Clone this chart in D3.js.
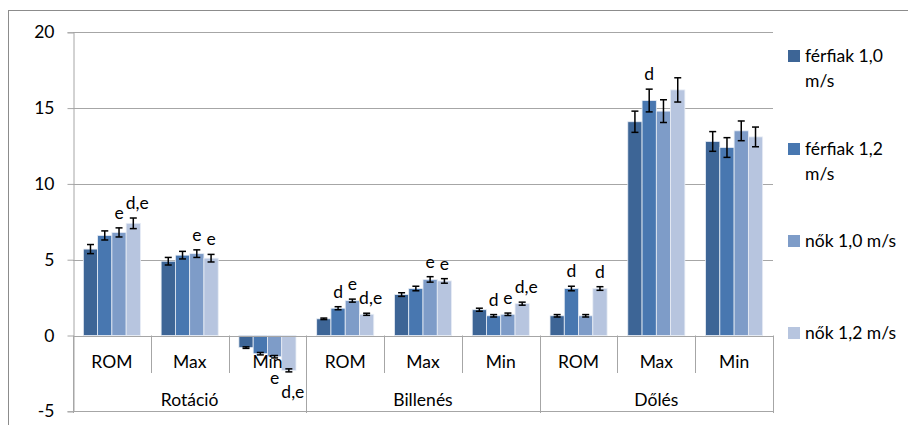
<!DOCTYPE html>
<html>
<head>
<meta charset="utf-8">
<script src="https://cdn.jsdelivr.net/npm/d3@7"></script>
<style>
  body { margin: 0; background: #fff; }
  text { font-family: Lato, "Open Sans", sans-serif; fill: #000; }
</style>
</head>
<body>
<script>
'use strict';

const groups = ['Rotáció', 'Billenés', 'Dőlés'];
const measures = ['ROM', 'Max', 'Min'];
const seriesNames = ['férfiak 1,0 m/s', 'férfiak 1,2 m/s', 'nők 1,0 m/s', 'nők 1,2 m/s'];
const colors = ['#3d6596', '#4877b0', '#7e9cc8', '#b7c5df'];
const yTicks = [-5, 0, 5, 10, 15, 20];

// values per series, in order Rotáció ROM/Max/Min, Billenés ROM/Max/Min, Dőlés ROM/Max/Min
const ferfi10 = [5.7, 4.9, -0.8, 1.1, 2.7, 1.7, 1.3, 14.1, 12.8];
const ferfi12 = [6.6, 5.3, -1.2, 1.8, 3.1, 1.3, 3.1, 15.5, 12.4];
const nok10   = [6.8, 5.4, -1.4, 2.3, 3.7, 1.4, 1.3, 14.8, 13.5];
const nok12   = [7.4, 5.1, -2.3, 1.4, 3.6, 2.1, 3.1, 16.2, 13.1];

const ferfi10Err = [0.3, 0.25, 0.05, 0.05, 0.12, 0.1, 0.08, 0.7, 0.65];
const ferfi12Err = [0.3, 0.25, 0.08, 0.1, 0.15, 0.08, 0.15, 0.75, 0.65];
const nok10Err   = [0.3, 0.25, 0.08, 0.1, 0.18, 0.08, 0.08, 0.75, 0.65];
const nok12Err   = [0.35, 0.25, 0.1, 0.07, 0.15, 0.1, 0.12, 0.8, 0.65];

const ferfi10Lab = ['', '', '', '', '', '', '', '', ''];
const ferfi12Lab = ['', '', '', 'd', '', 'd', 'd', 'd', ''];
const nok10Lab   = ['e', 'e', 'e', 'e', 'e', 'e', '', '', ''];
const nok12Lab   = ['d,e', 'e', 'd,e', 'd,e', 'e', 'd,e', 'd', '', ''];

const seriesVals = [ferfi10, ferfi12, nok10, nok12];
const seriesErr = [ferfi10Err, ferfi12Err, nok10Err, nok12Err];
const seriesLab = [ferfi10Lab, ferfi12Lab, nok10Lab, nok12Lab];

const W = 908, H = 425;
const plot = { left: 73, right: 773, top: 32.3, bottom: 411.3 };
const gridColor = '#a6a6a6';
const fs = '17.5px';

const svg = d3.select('body').append('svg')
  .attr('width', W)
  .attr('height', H);

// outer chart border
svg.append('rect')
  .attr('x', 8.5).attr('y', 10.5)
  .attr('width', W + 10).attr('height', H + 10)
  .attr('fill', 'none')
  .attr('stroke', '#8c8c8c');

const keys = [];
groups.forEach(g => measures.forEach(m => keys.push(g + '|' + m)));

const x = d3.scaleBand()
  .domain(keys)
  .range([plot.left, plot.right]);

const bw = x.bandwidth();
const xs = d3.scaleBand()
  .domain(d3.range(seriesNames.length))
  .range([bw * 0.133, bw * 0.867]);

const y = d3.scaleLinear()
  .domain([-5, 20])
  .range([plot.bottom, plot.top]);

// gridlines
svg.append('g')
  .selectAll('line')
  .data(yTicks.filter(d => d !== 0))
  .join('line')
  .attr('x1', plot.left).attr('x2', plot.right)
  .attr('y1', d => Math.round(y(d)) + 0.5)
  .attr('y2', d => Math.round(y(d)) + 0.5)
  .attr('stroke', gridColor);

// y axis
const yAxis = svg.append('g')
  .attr('transform', `translate(${plot.left + 0.5},0)`)
  .call(d3.axisLeft(y).tickValues(yTicks).tickSize(6).tickPadding(13).tickFormat(d => String(d)));
yAxis.select('.domain').attr('stroke', gridColor);
yAxis.selectAll('.tick line').attr('stroke', gridColor);
yAxis.selectAll('.tick text')
  .style('font-family', 'Lato, sans-serif')
  .style('font-size', fs)
  .attr('fill', '#000');

// bars
const data = [];
keys.forEach((k, i) => {
  seriesVals.forEach((vals, s) => {
    data.push({ key: k, s: s, v: vals[i], e: seriesErr[s][i], lab: seriesLab[s][i] });
  });
});

const bars = svg.append('g');
bars.selectAll('rect')
  .data(data)
  .join('rect')
  .attr('x', d => x(d.key) + xs(d.s))
  .attr('width', xs.bandwidth())
  .attr('y', d => y(Math.max(0, d.v)))
  .attr('height', d => Math.abs(y(d.v) - y(0)))
  .attr('fill', d => colors[d.s])
  .attr('stroke', '#e8edf5')
  .attr('stroke-width', 0.8);

// zero axis line
svg.append('line')
  .attr('x1', plot.left).attr('x2', plot.right)
  .attr('y1', Math.round(y(0)) + 0.5).attr('y2', Math.round(y(0)) + 0.5)
  .attr('stroke', gridColor);

// category tick lines
const bounds = keys.map(k => x(k)).concat([plot.right]);
svg.append('g')
  .selectAll('line')
  .data(bounds)
  .join('line')
  .attr('x1', d => Math.round(d) + 0.5).attr('x2', d => Math.round(d) + 0.5)
  .attr('y1', y(0))
  .attr('y2', (d, i) => i % 3 === 0 ? 413 : 373)
  .attr('stroke', gridColor);

// category labels
svg.append('g')
  .selectAll('text')
  .data(keys)
  .join('text')
  .attr('x', d => x(d) + bw / 2)
  .attr('y', 368)
  .attr('text-anchor', 'middle')
  .style('font-size', fs)
  .text(d => d.split('|')[1]);

svg.append('g')
  .selectAll('text')
  .data(groups)
  .join('text')
  .attr('x', (g, i) => (x(keys[i * 3]) + x(keys[i * 3 + 2]) + bw) / 2)
  .attr('y', 406)
  .attr('text-anchor', 'middle')
  .style('font-size', fs)
  .text(d => d);

// error bars
const eb = svg.append('g')
  .attr('stroke', '#000')
  .attr('stroke-width', 1.5);
data.forEach(d => {
  const cx = x(d.key) + xs(d.s) + xs.bandwidth() / 2;
  const y1 = y(d.v + d.e), y2 = y(d.v - d.e);
  eb.append('line').attr('x1', cx).attr('x2', cx).attr('y1', y1).attr('y2', y2);
  eb.append('line').attr('x1', cx - 3.5).attr('x2', cx + 3.5).attr('y1', y1).attr('y2', y1);
  eb.append('line').attr('x1', cx - 3.5).attr('x2', cx + 3.5).attr('y1', y2).attr('y2', y2);
});

// significance letters
svg.append('g')
  .selectAll('text')
  .data(data.filter(d => d.lab))
  .join('text')
  .attr('x', d => x(d.key) + xs(d.s) + xs.bandwidth() / 2 + (d.lab.length > 1 ? 4 : 0))
  .attr('y', d => d.v >= 0 ? y(d.v + d.e) - 9 : y(d.v - d.e) + 26)
  .attr('text-anchor', 'middle')
  .style('font-size', fs)
  .text(d => d.lab);

// legend
const legendY = [56, 149, 241, 333];
const legend = svg.append('g');
seriesNames.forEach((name, i) => {
  const g = legend.append('g').attr('transform', `translate(788,${legendY[i]})`);
  g.append('rect')
    .attr('x', 0).attr('y', -6)
    .attr('width', 12).attr('height', 12)
    .attr('fill', colors[i]);
  const t = g.append('text')
    .attr('x', 17).attr('y', 6)
    .style('font-size', fs);
  // wrap to fit legend width
  const words = name.split(' ');
  let line = [];
  let tspan = t.append('tspan').attr('x', 17).attr('dy', 0);
  words.forEach(w => {
    line.push(w);
    tspan.text(line.join(' '));
    if (tspan.node().getComputedTextLength() > 100 && line.length > 1) {
      line.pop();
      tspan.text(line.join(' '));
      line = [w];
      tspan = t.append('tspan').attr('x', 17).attr('dy', 25).text(w);
    }
  });
});
</script>
</body>
</html>
